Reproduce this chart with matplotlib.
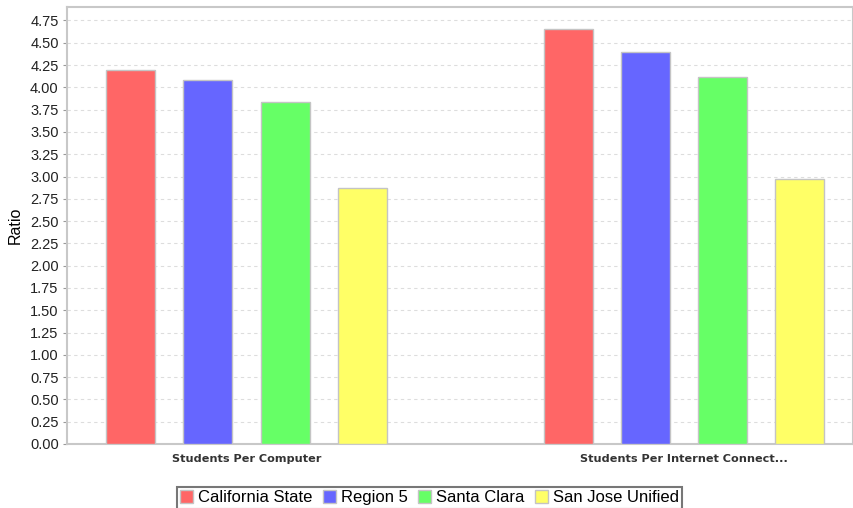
import matplotlib.pyplot as plt
import numpy as np
from matplotlib.patches import Patch

categories = ["Students Per Computer", "Students Per Internet Connect..."]
series = ["California State", "Region 5", "Santa Clara", "San Jose Unified"]
values = [
    [4.19, 4.66],
    [4.08, 4.40],
    [3.84, 4.12],
    [2.87, 2.97],
]
colors = ["#FF6666", "#6666FF", "#66FF66", "#FFFF66"]
yticks = np.arange(0, 4.76, 0.25)

fig = plt.figure(figsize=(8.54, 5.08), dpi=100)
ax = fig.add_axes([0.0785, 0.126, 0.920, 0.860])

x = np.arange(len(categories))
width = 0.112
step = 0.176
for i, (name, vals) in enumerate(zip(series, values)):
    offs = (i - 1.5) * step
    ax.bar(x + offs, vals, width, color=colors[i], edgecolor="#C4C4C4", linewidth=1, zorder=3)

ax.set_xlim(-0.41, 1.385)
ax.set_ylim(0, 4.9)
ax.set_yticks(yticks)
ax.set_yticklabels([f"{v:.2f}" for v in yticks], fontsize=10.5, family="Liberation Sans", color="#222222")
ax.set_xticks(x)
ax.set_xticklabels(categories, fontsize=8.1, fontweight="bold", family="DejaVu Sans", color="#333333")
ax.tick_params(axis="x", length=0, pad=7)
ax.tick_params(axis="y", length=3, color="#999999", pad=3)
ax.yaxis.grid(True, linestyle=(0, (3, 3)), color="#DDDDDD", linewidth=0.8, zorder=0)
for s in ax.spines.values():
    s.set_color("#C8C8C8")
    s.set_linewidth(1.5)
ax.set_ylabel("Ratio", fontsize=11.5, family="Liberation Sans", labelpad=5)

handles = [Patch(facecolor=c, edgecolor="#C4C4C4") for c in colors]
leg = fig.legend(handles, series, loc="lower center", bbox_to_anchor=(0.503, -0.008), ncol=4,
                 frameon=True, fancybox=False, edgecolor="#555555",
                 prop={"family": "Liberation Sans", "size": 12},
                 handlelength=0.8, handleheight=0.8, handletextpad=0.3, columnspacing=0.6,
                 borderpad=0.2, borderaxespad=0.2)
leg.get_frame().set_linewidth(1.5)

fig.savefig("out.png", dpi=100)
